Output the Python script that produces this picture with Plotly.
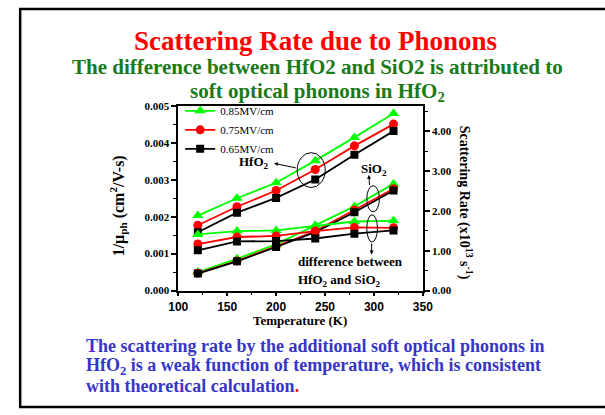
import plotly.graph_objects as go

W, H = 605, 415

# ---- data ----
temperature = [120, 160, 200, 240, 280, 320]
fields = ["0.85MV/cm", "0.75MV/cm", "0.65MV/cm"]
hfo2 = {
    "0.85MV/cm": [0.00203, 0.00250, 0.00292, 0.00352, 0.00415, 0.00480],
    "0.75MV/cm": [0.00177, 0.00227, 0.00271, 0.00328, 0.00392, 0.00451],
    "0.65MV/cm": [0.00158, 0.00211, 0.00251, 0.00301, 0.00368, 0.00432],
}
sio2 = {
    "0.85MV/cm": [0.00050, 0.00086, 0.00125, 0.00177, 0.00228, 0.00289],
    "0.75MV/cm": [0.00047, 0.00080, 0.00120, 0.00161, 0.00218, 0.00276],
    "0.65MV/cm": [0.00046, 0.00079, 0.00118, 0.00158, 0.00212, 0.00271],
}
diff = {
    "0.85MV/cm": [0.00152, 0.00161, 0.00163, 0.00175, 0.00187, 0.00189],
    "0.75MV/cm": [0.00126, 0.00145, 0.00148, 0.00161, 0.00171, 0.00170],
    "0.65MV/cm": [0.00109, 0.00133, 0.00134, 0.00141, 0.00154, 0.00163],
}
x_ticks = [100, 150, 200, 250, 300, 350]
left_ticks = [0.0, 0.001, 0.002, 0.003, 0.004, 0.005]
right_ticks = [0.0, 1.0, 2.0, 3.0, 4.0]

colors = {"0.85MV/cm": "#00ff00", "0.75MV/cm": "#ff0000", "0.65MV/cm": "#000000"}
symbols = {"0.85MV/cm": "triangle-up", "0.75MV/cm": "circle", "0.65MV/cm": "square"}
msize = {"0.85MV/cm": 10, "0.75MV/cm": 9, "0.65MV/cm": 8}

SERIF = "Liberation Serif, Times New Roman, serif"
SANS = "Liberation Sans, Arial, sans-serif"


def px(x):
    return x / W


def py(y):
    return 1 - y / H


fig = go.Figure()
for group, show in ((hfo2, True), (sio2, False), (diff, False)):
    for f in fields:
        fig.add_trace(go.Scatter(
            x=temperature, y=group[f], mode="lines+markers", name=f,
            showlegend=show, legendgroup=f,
            line=dict(color=colors[f], width=1.8),
            marker=dict(symbol=symbols[f], size=msize[f], color=colors[f]),
        ))

# invisible helper to attach right axis
fig.add_trace(go.Scatter(x=[None], y=[None], yaxis="y2", showlegend=False, hoverinfo="skip"))

x0, x1 = 174, 427
y0, y1 = 103, 293

fig.update_layout(
    width=W, height=H,
    margin=dict(l=0, r=0, t=0, b=0),
    paper_bgcolor="white", plot_bgcolor="white",
    xaxis=dict(
        domain=[px(x0), px(x1)], range=[100, 350],
        tickvals=x_ticks, ticktext=[str(v) for v in x_ticks],
        ticks="outside", ticklen=4, tickwidth=1.5, tickcolor="black",
        minor=dict(ticks="outside", ticklen=3, dtick=25, tickcolor="black", tickwidth=1.2),
        showline=True, linecolor="black", linewidth=1.8, mirror=True,
        showgrid=False, zeroline=False,
        tickfont=dict(family=SANS, size=12, color="black", weight="bold"),
    ),
    yaxis=dict(
        domain=[py(y1), py(y0)], range=[0, 0.005],
        tickvals=left_ticks, ticktext=["%.3f" % v for v in left_ticks],
        ticks="outside", ticklen=5, tickwidth=1.5, tickcolor="black",
        minor=dict(ticks="outside", ticklen=3, dtick=0.0005, tickcolor="black", tickwidth=1.2),
        showline=True, linecolor="black", linewidth=1.8,
        showgrid=False, zeroline=False,
        tickfont=dict(family=SERIF, size=11, color="black", weight="bold"),
    ),
    yaxis2=dict(
        overlaying="y", side="right", anchor="x",
        range=[0, 4.634],
        tickvals=right_ticks, ticktext=["%.2f" % v for v in right_ticks],
        ticks="outside", ticklen=5, tickwidth=1.5, tickcolor="black",
        minor=dict(ticks="outside", ticklen=3, dtick=0.5, tickcolor="black", tickwidth=1.2),
        showline=True, linecolor="black", linewidth=1.8,
        showgrid=False, zeroline=False,
        tickfont=dict(family=SERIF, size=11, color="black", weight="bold"),
    ),
    legend=dict(
        x=px(176), y=py(93), xanchor="left", yanchor="top",
        bgcolor="rgba(0,0,0,0)", borderwidth=0,
        font=dict(family=SERIF, size=11, color="black"),
        tracegroupgap=0, itemwidth=30,
    ),
    showlegend=True,
)

ann = []


def text(x, y, s, size, color="black", xanchor="center", bold=True, angle=0, family=SERIF):
    ann.append(dict(
        x=px(x), y=py(y), xref="paper", yref="paper", text=s, showarrow=False,
        xanchor=xanchor, yanchor="middle", textangle=angle,
        font=dict(family=family, size=size, color=color, weight="bold" if bold else "normal"),
    ))


# titles
text(316, 36, "Scattering Rate due to Phonons", 27, color="#ff0000")
text(318, 63, "The difference between HfO2 and SiO2 is attributed to", 21, color="#1a7a1a")
text(318, 89, "soft optical phonons in HfO<sub>2</sub>", 21, color="#1a7a1a")

# axis titles
text(300, 324, "Temperature (K)", 13)
text(112, 206, "1/μ<sub>ph</sub> (cm<sup>2</sup>/V-s)", 16, angle=-90)
text(471, 203, "Scattering Rate (x10<sup>13</sup> s<sup>-1</sup>)", 14, angle=90)

# in-plot labels
text(252, 161, "HfO<sub>2</sub>", 13)
text(376, 168, "SiO<sub>2</sub>", 13)
text(296, 263, "difference between", 13, xanchor="left")
text(296, 283, "HfO<sub>2</sub> and SiO<sub>2</sub>", 13, xanchor="left")

# bottom text
blue = "#3535c8"
text(77, 350, "The scattering rate by the additional soft optical phonons in", 18, color=blue, xanchor="left")
text(77, 371, "HfO<sub>2</sub> is a weak function of temperature, which is consistent", 18, color=blue, xanchor="left")
text(77, 391, "with theoretical calculation<span style='color:#ff0000'>.</span>", 18, color=blue, xanchor="left")


def dx(p):
    return 100 + (p - x0) * 250 / (x1 - x0)


def dy(p):
    return (y1 - p) * 0.005 / (y1 - y0)


# arrows
def arrow(xh, yh, xt, yt):
    ann.append(dict(
        x=dx(xh), y=dy(yh), ax=dx(xt), ay=dy(yt), xref="x", yref="y", axref="x", ayref="y",
        text="", showarrow=True, arrowhead=2, arrowsize=0.8, arrowwidth=1, arrowcolor="black",
    ))


arrow(273, 162, 297, 167)
arrow(371, 174, 372, 186)
arrow(374, 256, 374, 243)

fig.update_layout(annotations=ann)

shapes = []
for (ax0, ay0, ax1, ay1) in [(297, 151, 326, 187), (369, 185, 382, 212), (369, 215, 380, 243)]:
    shapes.append(dict(type="circle", xref="x", yref="y",
                       x0=dx(ax0), x1=dx(ax1), y0=dy(ay1), y1=dy(ay0),
                       line=dict(color="black", width=1)))
# slide frame
shapes.append(dict(type="rect", xref="paper", yref="paper",
                   x0=px(10.5), x1=px(620), y0=py(413), y1=py(3),
                   line=dict(color="black", width=2.5)))
fig.update_layout(shapes=shapes)

fig.write_html("out.html")
